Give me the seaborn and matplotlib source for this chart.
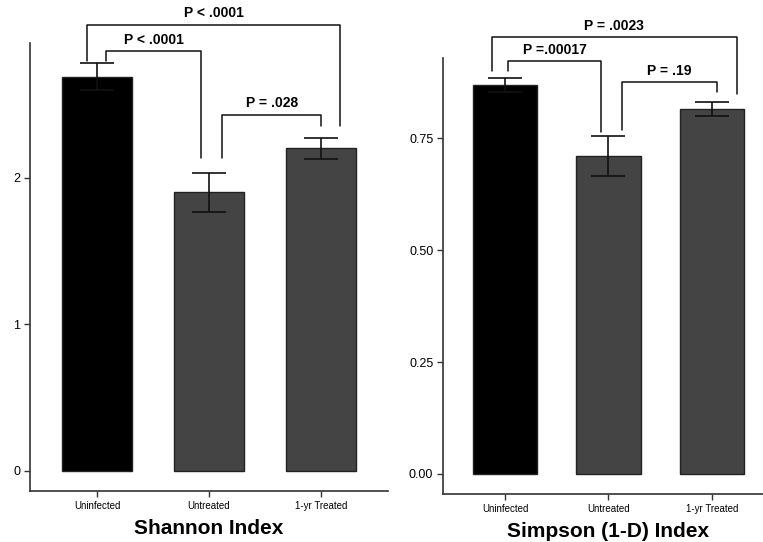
import pandas as pd
import matplotlib.pyplot as plt
import seaborn as sns

# data
groups = ['Uninfected', 'Untreated', '1-yr Treated']
shannon_mean = [2.69, 1.90, 2.20]
shannon_err = [0.09, 0.13, 0.07]
simpson_mean = [0.868, 0.710, 0.815]
simpson_err = [0.016, 0.045, 0.016]
shannon_p = ['P < .0001', 'P < .0001', 'P = .028']
simpson_p = ['P = .0023', 'P =.00017', 'P = .19']

bar_colors = ['#000000', '#444444', '#444444']

sns.set_style('white')
plt.rcParams['font.family'] = ['Liberation Sans', 'DejaVu Sans']
plt.rcParams['text.color'] = 'black'
plt.rcParams['axes.labelcolor'] = 'black'
plt.rcParams['xtick.color'] = 'black'
plt.rcParams['ytick.color'] = 'black'

fig = plt.figure(figsize=(7.63, 5.42), dpi=100)
ax1 = fig.add_axes([0.0393, 0.0941, 0.4692, 0.8266])
ax2 = fig.add_axes([0.5806, 0.0886, 0.4338, 0.8044])


def draw_panel(ax, means, errs, title, ylim, yticks, ytick_labels):
    df = pd.DataFrame({'group': groups, 'value': means})
    sns.barplot(data=df, x='group', y='value', hue='group', palette=bar_colors,
                width=0.625, edgecolor='#222222', linewidth=1, legend=False, ax=ax)
    ax.errorbar(range(len(groups)), means, yerr=errs, fmt='none', ecolor='#111111',
                elinewidth=1.2, capsize=12, capthick=1.2)
    ax.set_xlim(-0.6, 2.6)
    ax.set_ylim(*ylim)
    ax.set_yticks(yticks)
    ax.set_yticklabels(ytick_labels, fontsize=9)
    ax.set_xticks(range(len(groups)))
    ax.set_xticklabels(groups, fontsize=7)
    ax.set_xlabel(title, fontsize=15, fontweight='bold', labelpad=6)
    ax.set_ylabel('')
    for s in ['top', 'right']:
        ax.spines[s].set_visible(False)
    for s in ['left', 'bottom']:
        ax.spines[s].set_color('#333333')
        ax.spines[s].set_linewidth(1.2)
    ax.tick_params(axis='both', which='both', length=4, width=1, color='#333333',
                   direction='out', left=True, bottom=True, pad=3)


def bracket(ax, x1, x2, y, y1, y2, text, ty):
    ax.plot([x1, x1, x2, x2], [y1, y, y, y2], color='#111111', lw=1.1, clip_on=False)
    ax.text((x1 + x2) / 2, ty, text, ha='center', va='bottom', fontsize=10,
            fontweight='bold', clip_on=False)


draw_panel(ax1, shannon_mean, shannon_err, 'Shannon Index',
           (-0.137, 2.92), [0, 1, 2], ['0', '1', '2'])
bracket(ax1, -0.09, 2.17, 3.044, 2.80, 2.355, shannon_p[0], 3.075)
bracket(ax1, 0.08, 0.93, 2.867, 2.80, 2.137, shannon_p[1], 2.895)
bracket(ax1, 1.12, 2.0, 2.43, 2.137, 2.355, shannon_p[2], 2.46)

draw_panel(ax2, simpson_mean, simpson_err, 'Simpson (1-D) Index',
           (-0.0446, 0.9286), [0, 0.25, 0.5, 0.75], ['0.00', '0.25', '0.50', '0.75'])
bracket(ax2, -0.13, 2.24, 0.975, 0.90, 0.848, simpson_p[0], 0.984)
bracket(ax2, 0.03, 0.93, 0.922, 0.90, 0.763, simpson_p[1], 0.931)
bracket(ax2, 1.13, 2.05, 0.875, 0.768, 0.853, simpson_p[2], 0.884)

fig.savefig('out.png', dpi=100)
